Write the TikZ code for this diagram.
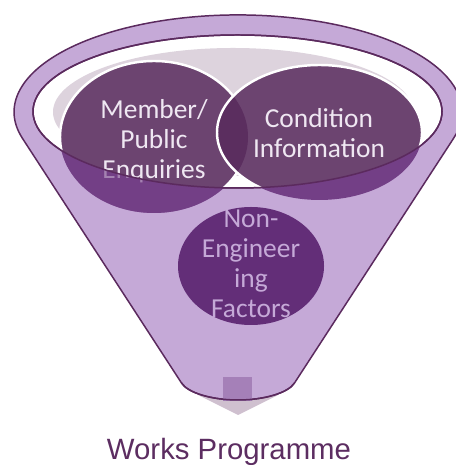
\documentclass[tikz,border=0pt]{standalone}
\usepackage{fontspec}
\setmainfont{Liberation Sans}
\newfontfamily\bubblefont{Carlito}
\definecolor{funnelfill}{HTML}{C5A9D7}
\definecolor{rim}{HTML}{5B2A5E}
\definecolor{rimshadow}{HTML}{DDD3DD}
\definecolor{bubblein}{HTML}{6C4470}
\definecolor{bubbleout}{HTML}{733F86}
\definecolor{bubbleboth}{HTML}{5B2E5F}
\definecolor{bubblelow}{HTML}{632E78}
\definecolor{plug}{HTML}{A580B8}
\definecolor{spout}{HTML}{CFC0CF}
\definecolor{caption}{HTML}{5C2D61}
\definecolor{bubblelight}{HTML}{EFE7F2}
\tikzset{
	rimline/.style={draw=rim, line width=0.85pt},
	ringline/.style={draw=white, line width=1.4pt},
	bubbletext/.style={font=\bubblefont\fontsize{15.6}{17.1}\selectfont, text=bubblelight, align=center},
	lowtext/.style={font=\bubblefont\fontsize{15.6}{17.1}\selectfont, text=funnelfill, align=center},
	captiontext/.style={font=\fontsize{16.7}{19}\selectfont, text=caption},
}

\begin{document}
\begin{tikzpicture}[x=0.02cm, y=0.02cm]
				\useasboundingbox (0,0) rectangle (455,465);
				
				\fill[spout] (198,70) -- (278,70) -- (238,50) -- cycle;
				
				\filldraw[fill=funnelfill, rimline] (22.35,326.8) -- (181.5,82) .. controls (188,72) and (212,65) .. (238,65) .. controls (264,65) and (288,72) .. (294.5,82) -- (453.65,326.8) arc[start angle=-15.7, end angle=195.7, x radius=224, y radius=97] -- cycle;
				\fill[plug] (223,64) rectangle (252,88);
				\draw[rimline] (181.5,82) .. controls (188,72) and (212,65) .. (238,65) .. controls (264,65) and (288,72) .. (294.5,82);
				
				\filldraw[fill=white, rimline] (237.5,353.5) ellipse [x radius=204.5, y radius=76.5];
				\fill[rimshadow] (233,353) ellipse [x radius=180, y radius=64];
				
				% member/public bubble
				\fill[bubbleout] (154,328) ellipse [x radius=94, y radius=76];
				\begin{scope}
					\clip (237.5,353.5) ellipse [x radius=204.5, y radius=76.5];
					\fill[bubblein] (154,328) ellipse [x radius=94, y radius=76];
					\draw[ringline] (154,328) ellipse [x radius=94, y radius=76];
				\end{scope}
				
				% condition bubble
				\fill[bubbleout] (319.5,332.5) ellipse [x radius=102.5, y radius=67.5];
				\begin{scope}
					\clip (237.5,353.5) ellipse [x radius=204.5, y radius=76.5];
					\fill[bubblein] (319.5,332.5) ellipse [x radius=102.5, y radius=67.5];
				\end{scope}
				\begin{scope}
					\clip (154,328) ellipse [x radius=94, y radius=76];
					\fill[bubbleboth] (319.5,332.5) ellipse [x radius=102.5, y radius=67.5];
				\end{scope}
				\begin{scope}
					\clip (237.5,353.5) ellipse [x radius=204.5, y radius=76.5];
					\draw[ringline] (319.5,332.5) ellipse [x radius=102.5, y radius=67.5];
				\end{scope}
				
				\node[bubbletext] (member) at (154,324) {Member/\\Public\\Enquiries};
				\node[bubbletext] (condition) at (319,332) {Condition\\Information};
				
				% below the rim the text sinks into the bubble
				\begin{scope}
					\clip (154,328) ellipse [x radius=94, y radius=76];
					\fill[bubbleout, fill opacity=0.6, even odd rule] (0,0) rectangle (455,465) (237.5,353.5) ellipse [x radius=204.5, y radius=76.5];
				\end{scope}
				\draw[rimline] (237.5,353.5) ellipse [x radius=204.5, y radius=76.5];
				
				\fill[bubblelow] (251,199) ellipse [x radius=73, y radius=59];
				\node[lowtext] (nonengineering) at (251,201) {Non-\\Engineer\\ing\\Factors};
				
				\node[captiontext, anchor=base] (works) at (229,6) {Works Programme};
			\end{tikzpicture}
\end{document}
